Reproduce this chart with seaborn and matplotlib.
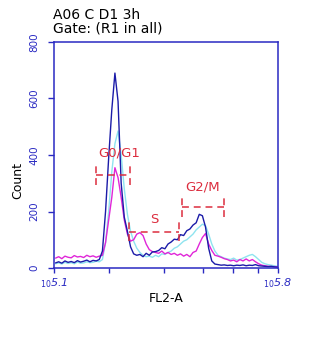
import numpy as np
import pandas as pd
import matplotlib
matplotlib.use("Agg")
import matplotlib.pyplot as plt
import seaborn as sns

# FL2-A channel centres (log10 of intensity)
fl2a_log = np.round(np.arange(5.13, 5.845, 0.01), 2)

# DNA-content histograms (events per channel)
counts_blue = [
    18, 22, 17, 25, 20, 23, 19, 26, 21, 24, 28, 22, 27, 25, 30,
    60, 200, 390, 560, 690, 590, 300, 180, 130, 75, 50, 45,
    48, 40, 52, 45, 57, 58, 62, 72, 68, 85,
    92, 102, 100, 118, 115, 132, 138, 152, 160, 190,
    185, 145, 70, 25, 14, 12, 10, 11, 9, 10,
    8, 10, 9, 11, 8, 10, 9, 12, 8, 7, 6, 5, 6, 4, 3,
]
counts_cyan = [
    15, 18, 14, 20, 16, 19, 15, 21, 17, 18, 22, 19, 20, 24, 22,
    30, 90, 200, 340, 440, 485, 400, 280, 190, 130, 95, 70,
    55, 45, 40, 42, 38, 45, 40, 50, 48, 55,
    60, 70, 75, 85, 95, 100, 110, 120, 135, 145,
    155, 150, 120, 85, 60, 45, 40, 35, 32, 30,
    35, 28, 30, 35, 40, 45, 48, 40, 30, 20, 15, 12, 10, 8, 6,
]
counts_magenta = [
    35, 40, 33, 42, 38, 36, 44, 39, 41, 37, 45, 40, 43, 38, 42,
    45, 90, 170, 250, 355, 320, 250, 170, 120, 95, 100, 120,
    125, 115, 85, 65, 58, 55, 52, 60, 50, 55,
    48, 52, 45, 50, 42, 48, 40, 55, 60, 85,
    108, 122, 85, 62, 45, 42, 38, 33, 30, 25,
    28, 22, 30, 25, 32, 25, 30, 22, 15, 10, 8, 6, 5, 5, 4,
]

# Cell-cycle gates: channel range and marker level
gate_names = ["G0/G1", "S", "G2/M"]
gate_lo = [5.259, 5.366, 5.534]
gate_hi = [5.367, 5.526, 5.669]
gate_level = [329, 129, 217]
gate_label_x = [5.333, 5.445, 5.600]
gate_label_y = [393, 159, 273]

# Axis decorations
x_range = (5.125, 5.842)
x_end_labels = [r"$_{10}$5.1", r"$_{10}$5.8"]
x_minor = np.log10([2e5, 3e5, 4e5, 5e5, 6e5])
y_ticks = [0, 200, 400, 600, 800]

axis_blue = "#2a2ac2"
gate_red = "#dc2d3e"
colors = {"blue": "#1b1ba8", "cyan": "#8fe4ef", "magenta": "#e026d8"}

sns.set_theme(style="white")
plt.rcParams["font.family"] = ["DejaVu Sans"]

df = pd.concat(
    [
        pd.DataFrame({"fl2a": fl2a_log, "count": counts_cyan, "trace": "cyan"}),
        pd.DataFrame({"fl2a": fl2a_log, "count": counts_magenta, "trace": "magenta"}),
        pd.DataFrame({"fl2a": fl2a_log, "count": counts_blue, "trace": "blue"}),
    ],
    ignore_index=True,
)

fig = plt.figure(figsize=(3.33, 3.6), dpi=100)
ax = fig.add_axes([54 / 333, 92 / 360, 224 / 333, 226 / 360])

sns.lineplot(
    data=df, x="fl2a", y="count", hue="trace",
    hue_order=["cyan", "magenta", "blue"], palette=colors,
    linewidth=1.0, legend=False, estimator=None, sort=False, ax=ax,
)

# Gate markers
cap = 35
dash = (0, (4.5, 3.2))
for name, lo, hi, lvl, lx, ly in zip(gate_names, gate_lo, gate_hi, gate_level,
                                      gate_label_x, gate_label_y):
    ax.plot([lo, hi], [lvl, lvl], color=gate_red, lw=1.1, linestyle=dash)
    ax.plot([lo, lo], [lvl - cap, lvl + cap], color=gate_red, lw=1.1, linestyle=dash)
    ax.plot([hi, hi], [lvl - cap, lvl + cap], color=gate_red, lw=1.1, linestyle=dash)
    ax.text(lx, ly, name, color=gate_red, fontsize=9.5, ha="center", va="baseline")

ax.set_xlim(*x_range)
ax.set_ylim(0, 800)

ax.set_xticks(list(x_range))
ax.set_xticklabels(x_end_labels)
ax.set_xticks(x_minor, minor=True)
ax.set_yticks(y_ticks)

for s in ax.spines.values():
    s.set_visible(True)
    s.set_color(axis_blue)
    s.set_linewidth(1.1)

ax.tick_params(axis="x", which="both", direction="out", length=3.6, width=1.0,
               color=axis_blue, bottom=True, top=False)
ax.tick_params(axis="x", which="major", labelcolor=axis_blue, labelsize=8, pad=2)
for lab in ax.get_xticklabels():
    lab.set_fontstyle("italic")

ax.tick_params(axis="y", which="major", direction="out", length=4.3, width=1.0,
               color=axis_blue, labelcolor=axis_blue, labelsize=7.5, pad=6,
               labelrotation=90, left=True, right=False)
for lab in ax.get_yticklabels():
    lab.set_va("center")

ax.set_xlabel("FL2-A", fontsize=9, color="black", va="top")
ax.xaxis.set_label_coords(0.5, -0.108)
ax.set_ylabel("Count", fontsize=9, color="black", va="center", ha="center")
ax.yaxis.set_label_coords(-0.161, 0.389)

fig.text(53 / 333, 1 - 19 / 360, "A06 C D1 3h", fontsize=10, color="black",
         va="baseline", ha="left")
fig.text(53 / 333, 1 - 33 / 360, "Gate: (R1 in all)", fontsize=10, color="black",
         va="baseline", ha="left")

fig.savefig("out.png", dpi=100)
